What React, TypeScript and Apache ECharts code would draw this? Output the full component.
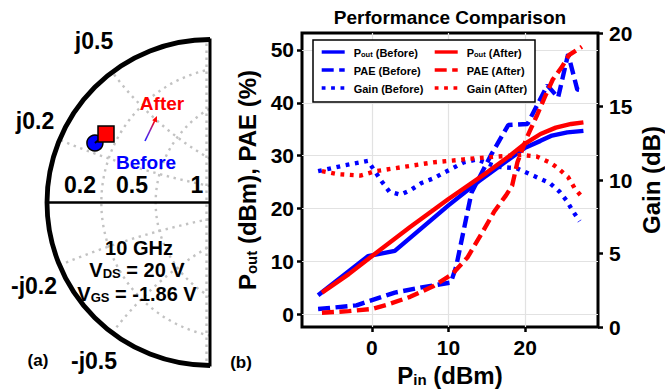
import React, { useEffect, useRef } from 'react';
import * as echarts from 'echarts';

// ---------- (b) performance data: Pin (dBm) / values ----------
const pinPoutBefore = [-7, -0.5, 3, 10, 14, 17.5, 20, 22, 23.5, 25.5, 27.6];
const poutBefore = [3.6, 11.0, 12.0, 20.6, 25.2, 28.9, 31.5, 32.8, 33.8, 34.4, 34.7];
const pinPaeBefore = [-7, -2, 3, 6.5, 10.3, 11, 12, 13, 15.5, 17.8, 20.3, 22.9, 24.3, 25.6, 26.8, 27.6];
const paeBefore = [1.0, 1.7, 4.1, 5.1, 6.0, 9.0, 16.0, 23.0, 30.0, 35.8, 36.0, 43.3, 41.0, 49.2, 42.5, 42.3];
const pinGainBefore = [-7, -3.5, -0.5, 1.3, 2.3, 3.7, 5, 6.5, 8, 9.8, 12, 13.7, 16.3, 18.9, 21.9, 23.2, 24.5, 25.4, 26.2, 27.1];
const gainBefore = [10.6, 11.0, 11.3, 9.9, 9.2, 9.0, 9.3, 9.8, 10.1, 10.6, 11.2, 11.4, 10.9, 10.8, 10.1, 9.8, 9.2, 8.6, 7.9, 7.2];

const pinPoutAfter = [-6.5, -3, 0, 5, 10, 15, 18, 20, 22, 24, 26, 27.6];
const poutAfter = [4.1, 7.6, 11.0, 16.5, 21.8, 26.8, 30.0, 32.3, 34.1, 35.3, 36.0, 36.3];
const pinPaeAfter = [-6.5, -3, 0, 2, 5, 8, 10.5, 12.5, 14.5, 16, 17.5, 18.3, 19, 20.3, 21.5, 22.6, 23.6, 24.8, 25.7, 27.4];
const paeAfter = [0.3, 0.6, 1.0, 1.8, 3.3, 5.3, 7.6, 10.8, 15.7, 19.5, 22.5, 24.3, 28.8, 33.7, 37.5, 41.2, 44.4, 46.8, 49.0, 50.6];
const pinGainAfter = [-6.5, -4.5, -1.5, 0.5, 3, 5.5, 8, 10, 12, 14, 16.5, 19.5, 21.5, 23.2, 24.3, 25.6, 26.5, 27.5];
const gainAfter = [10.6, 10.4, 10.3, 10.6, 10.8, 11.0, 11.2, 11.3, 11.4, 11.5, 11.6, 11.7, 11.6, 11.2, 10.8, 10.2, 9.4, 8.8];

const xTicks = [0, 10, 20];
const leftTicks = [0, 10, 20, 30, 40, 50];
const rightTicks = [0, 5, 10, 15, 20];

const legendBefore = ['Pout (Before)', 'PAE (Before)', 'Gain (Before)'];
const legendAfter = ['Pout (After)', 'PAE (After)', 'Gain (After)'];

// ---------- (a) Smith chart: reflection coefficient (Re, Im) ----------
const smithBefore = [-0.706, 0.365];
const smithAfter = [-0.638, 0.42];
const smithRValues = [0.2, 0.5];
const smithXValues = [0.2, 0.5, -0.2, -0.5];
const smithRLabels = ['0.2', '0.5', '1'];
const smithXLabels = ['j0.5', 'j0.2', '-j0.2', '-j0.5'];

const FONT = "'Liberation Sans', Arial, Helvetica, sans-serif";
const BLUE = '#0000ff';
const RED = '#ff0000';
const LW = 4.4;
const DASH = [12, 5.5];
const DOT = [3.8, 5.6];

const pairs = (xs: number[], ys: number[]) => xs.map((x, i) => [x, ys[i]]);

export default function App() {
  const ref = useRef<HTMLDivElement>(null);

  useEffect(() => {
    document.body.style.margin = '0';
    const chart = echarts.init(ref.current!, null, { renderer: 'svg' });

    // Smith chart frame geometry (pixels)
    const CX = 210, CY = 202.5, R = 163;
    const dotted = { stroke: '#c2c2c2', lineWidth: 2.4, lineDash: [2.4, 4.6] };
    const els: any[] = [];
    smithRValues.forEach((r) => {
      const c = r / (1 + r), rho = 1 / (1 + r), t0 = Math.acos(-r);
      els.push({
        type: 'arc', silent: true,
        shape: { cx: CX + R * c, cy: CY, r: R * rho, startAngle: t0, endAngle: 2 * Math.PI - t0, clockwise: true },
        style: dotted,
      });
    });
    smithXValues.forEach((x) => {
      const cyG = 1 / x, rad = 1 / Math.abs(x);
      const p1 = [(x * x - 1) / (x * x + 1), (2 * x) / (x * x + 1)];
      const p2 = [0, (1 - Math.sqrt(1 - x * x)) / x];
      const a1 = -Math.atan2(p1[1] - cyG, p1[0] - 1);
      const a2 = -Math.atan2(p2[1] - cyG, p2[0] - 1);
      els.push({
        type: 'arc', silent: true,
        shape: { cx: CX + R, cy: CY - R * cyG, r: R * rad, startAngle: Math.min(a1, a2), endAngle: Math.max(a1, a2), clockwise: true },
        style: dotted,
      });
    });
    els.push({ type: 'line', silent: true, shape: { x1: 206.5, y1: CY - R + 4, x2: 206.5, y2: CY + R - 4 }, style: dotted });
    // frame
    els.push({
      type: 'arc', silent: true,
      shape: { cx: CX, cy: CY, r: R, startAngle: Math.PI / 2, endAngle: (3 * Math.PI) / 2, clockwise: true },
      style: { stroke: '#000', lineWidth: 4.8 },
    });
    els.push({ type: 'line', silent: true, shape: { x1: CX, y1: CY - R - 1, x2: CX, y2: CY + R + 1 }, style: { stroke: '#000', lineWidth: 3 } });
    els.push({ type: 'line', silent: true, shape: { x1: CX - R, y1: CY, x2: CX, y2: CY }, style: { stroke: '#000', lineWidth: 2.5 } });

    const txt = (text: string, x: number, y: number, size: number, color = '#000', rich?: any) => ({
      type: 'text', x, y, silent: true, z: 10,
      style: {
        text, fill: color, font: `bold ${size}px ${FONT}`, fontSize: size, fontWeight: 'bold', fontFamily: FONT,
        align: 'center', verticalAlign: 'middle', textAlign: 'center', textVerticalAlign: 'middle',
        rich,
      },
    });

    const xPos = [[94, 41], [35, 121], [34, 286], [94, 361]];
    smithXLabels.forEach((t, i) => els.push(txt(t, xPos[i][0], xPos[i][1], 23)));
    const rPos = [[80, 185], [132, 185], [197, 185]];
    smithRLabels.forEach((t, i) => els.push(txt(t, rPos[i][0], rPos[i][1], 23)));
    els.push(txt('After', 162, 103, 19, RED));
    els.push(txt('Before', 146, 162, 19, BLUE));
    els.push(txt('10 GHz', 139, 248, 20));
    const vRich = {
      a: { fontSize: 20, fontWeight: 'bold', fontFamily: FONT, fill: '#000', lineHeight: 20, verticalAlign: 'bottom' },
      s: { fontSize: 13, fontWeight: 'bold', fontFamily: FONT, fill: '#000', lineHeight: 5, verticalAlign: 'bottom' },
    };
    els.push(txt('{a|V}{s|DS}{a| = 20 V}', 137, 270, 20, '#000', vRich));
    els.push(txt('{a|V}{s|GS}{a| = -1.86 V}', 137, 294, 20, '#000', vRich));
    els.push(txt('(a)', 38, 360, 17));
    els.push(txt('(b)', 241, 362, 17));
    els.push(txt('Performance Comparison', 450, 17, 19));

    // legend frame
    els.push({
      type: 'rect', silent: true, z: 3,
      shape: { x: 313, y: 40, width: 222, height: 62 },
      style: { fill: '#fff', stroke: '#000', lineWidth: 1.5 },
    });

    // arrow Before -> After
    els.push({
      type: 'line', silent: true, z: 10,
      shape: { x1: 145, y1: 141, x2: 154.6, y2: 121.2 },
      style: {
        lineWidth: 1.6,
        stroke: new echarts.graphic.LinearGradient(0, 1, 0, 0, [
          { offset: 0, color: '#2020ff' },
          { offset: 0.5, color: '#8020c0' },
          { offset: 1, color: '#ff0000' },
        ]),
      },
    });
    els.push({
      type: 'polygon', silent: true, z: 10,
      shape: { points: [[157, 116], [156.9, 122.5], [152.2, 120.3]] },
      style: { fill: RED },
    });

    const nameRich = {
      a: { fontSize: 24, fontWeight: 'bold', fontFamily: FONT, color: '#000', lineHeight: 24, verticalAlign: 'bottom' },
      s: { fontSize: 15, fontWeight: 'bold', fontFamily: FONT, color: '#000', lineHeight: 8, verticalAlign: 'bottom' },
    };
    const labelStyle = { fontSize: 21, fontWeight: 'bold', color: '#000', fontFamily: FONT };
    const tickStyle = { show: true, inside: false, length: 5, lineStyle: { color: '#000', width: 2.5 } };
    const splitStyle = { show: true, lineStyle: { color: '#e2e2e2', width: 1.2 } };

    const legendRich = {
      p: { fontSize: 11, fontWeight: 'bold', fontFamily: FONT, color: '#000', lineHeight: 12, verticalAlign: 'bottom', padding: [0, 0, 0, 4] },
      a: { fontSize: 11, fontWeight: 'bold', fontFamily: FONT, color: '#000', lineHeight: 12, verticalAlign: 'bottom' },
      s: { fontSize: 7.5, fontWeight: 'bold', fontFamily: FONT, color: '#000', lineHeight: 6, verticalAlign: 'bottom' },
    };
    const legendFmt = (name: string) => {
      if (name.startsWith('Pout')) return `{p|P}{s|out}{a|${name.slice(4)}}`;
      return `{p|${name}}`;
    };
    const legendBase = (left: number, data: string[]) => ({
      left, top: 47, orient: 'vertical',
      itemWidth: 23, itemHeight: 12, itemGap: 7, padding: 0,
      selectedMode: false,
      formatter: legendFmt,
      itemStyle: { opacity: 0, borderWidth: 0 },
      lineStyle: { width: 3.4 },
      textStyle: { rich: legendRich, fontSize: 11, fontWeight: 'bold', color: '#000' },
      data,
      z: 5,
    });

    const line = (name: string, xs: number[], ys: number[], color: string, type: any, yAxisIndex: number, z: number) => ({
      name, type: 'line', xAxisIndex: 0, yAxisIndex, data: pairs(xs, ys), symbol: 'none', z,
      lineStyle: { color, width: LW, type },
      itemStyle: { color },
      emphasis: { disabled: true },
      clip: true,
    });

    const option: any = {
      animation: false,
      textStyle: { fontFamily: FONT },
      grid: [
        { left: 302, top: 33, width: 296, height: 297, show: true, borderColor: '#000', borderWidth: 3, backgroundColor: 'transparent', containLabel: false },
        { left: CX - R, top: CY - R, width: R, height: 2 * R, show: false },
      ],
      xAxis: [
        {
          gridIndex: 0, type: 'value', min: -9.1, max: 29.5,
          name: '{a|P}{s|in}{a| (dBm)}', nameLocation: 'middle', nameGap: 36,
          nameTextStyle: { rich: nameRich },
          axisLine: { show: false, onZero: false },
          axisTick: { ...tickStyle, customValues: xTicks },
          axisLabel: { ...labelStyle, margin: 10, customValues: xTicks },
          splitLine: splitStyle,
        },
        { gridIndex: 1, type: 'value', min: -1, max: 0, show: false },
      ],
      yAxis: [
        {
          gridIndex: 0, type: 'value', min: -2.4, max: 53.2, position: 'left',
          name: '{a|P}{s|out}{a| (dBm), PAE (%)}', nameLocation: 'middle', nameGap: 43,
          nameTextStyle: { rich: nameRich },
          axisLine: { show: false, onZero: false },
          axisTick: { ...tickStyle, customValues: leftTicks },
          axisLabel: { ...labelStyle, margin: 8, customValues: leftTicks },
          splitLine: splitStyle,
        },
        {
          gridIndex: 0, type: 'value', min: 0, max: 20, interval: 5, position: 'right',
          name: 'Gain (dB)', nameLocation: 'middle', nameGap: 41, nameRotate: 90,
          nameTextStyle: { fontSize: 24, fontWeight: 'bold', color: '#000', fontFamily: FONT, lineHeight: 24 },
          axisLine: { show: false, onZero: false },
          axisTick: { ...tickStyle, customValues: rightTicks },
          axisLabel: { ...labelStyle, margin: 11, customValues: rightTicks },
          splitLine: { show: false },
        },
        { gridIndex: 1, type: 'value', min: -1, max: 1, show: false },
      ],
      legend: [legendBase(320, legendBefore), legendBase(433, legendAfter)],
      graphic: { elements: els },
      series: [
        line('Pout (Before)', pinPoutBefore, poutBefore, BLUE, 'solid', 0, 2),
        line('PAE (Before)', pinPaeBefore, paeBefore, BLUE, DASH, 0, 2),
        line('Gain (Before)', pinGainBefore, gainBefore, BLUE, DOT, 1, 2),
        line('Pout (After)', pinPoutAfter, poutAfter, RED, 'solid', 0, 2.5),
        line('PAE (After)', pinPaeAfter, paeAfter, RED, DASH, 0, 2.5),
        line('Gain (After)', pinGainAfter, gainAfter, RED, DOT, 1, 2.5),
        {
          name: 'Before', type: 'scatter', xAxisIndex: 1, yAxisIndex: 2, z: 4,
          data: [smithBefore], symbol: 'circle', symbolSize: 16,
          itemStyle: { color: BLUE, borderColor: '#000', borderWidth: 1.5, opacity: 1 },
        },
        {
          name: 'Shift', type: 'line', xAxisIndex: 1, yAxisIndex: 2, z: 5,
          data: [smithBefore, smithAfter], symbol: 'none',
          lineStyle: { color: '#000', width: 2 },
        },
        {
          name: 'After', type: 'scatter', xAxisIndex: 1, yAxisIndex: 2, z: 6,
          data: [smithAfter], symbol: 'rect', symbolSize: 16,
          itemStyle: { color: RED, borderColor: '#000', borderWidth: 1.5, opacity: 1 },
        },
      ],
    };

    chart.setOption(option);
    return () => chart.dispose();
  }, []);

  return <div ref={ref} style={{ width: 665, height: 392 }} />;
}
